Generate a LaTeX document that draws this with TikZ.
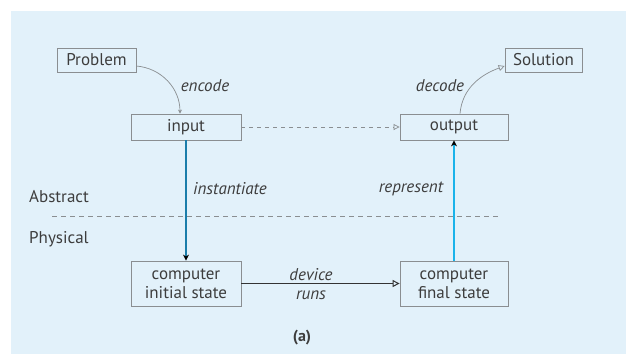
\documentclass[tikz,border=0pt]{standalone}
\usepackage{fontspec}
\setmainfont{PT Sans}
\usetikzlibrary{arrows.meta}
\definecolor{bgblue}{HTML}{E2F1FA}
\definecolor{boxline}{HTML}{8A8E91}
\definecolor{txt}{HTML}{3D3D3D}
\definecolor{darkblue}{HTML}{1B7DAA}
\definecolor{lightblue}{HTML}{1AB3EA}
\tikzset{
  box/.style={draw=boxline, line width=0.8pt, fill=bgblue, text=txt, font=\fontsize{17}{19}\selectfont, inner sep=0pt, align=center},
  lbl/.style={text=txt, font=\fontsize{17}{19}\selectfont\itshape, inner sep=0pt},
  side/.style={text=txt, font=\fontsize{17}{19}\selectfont, inner sep=0pt, anchor=west},
  thin/.style={draw=boxline, line width=0.7pt},
  opentip/.style={-{Triangle[open,length=6pt,width=6pt]}},
  smalltip/.style={-{Stealth[length=4pt,width=4pt]}},
}
\begin{document}
\begin{tikzpicture}[x=1pt,y=-1pt]
\useasboundingbox (0,0) rectangle (626,354);
\fill[white] (0,0) rectangle (626,354);
\fill[bgblue] (11,11) rectangle (626,354);
% boxes
\node[box, minimum width=79pt, minimum height=24pt] (problem) at (96.5,60) {Problem};
\node[box, minimum width=77pt, minimum height=24pt] (solution) at (543.5,60) {Solution};
\node[box, minimum width=110pt, minimum height=26pt] (input) at (186,127) {input};
\node[box, minimum width=108pt, minimum height=26pt] (output) at (454,127) {output};
\node[box, minimum width=110pt, minimum height=45pt] (init) at (186,283.5) {computer\\initial state};
\node[box, minimum width=108pt, minimum height=45pt] (final) at (454,283.5) {computer\\final state};
% labels
\node[lbl] (encode) at (205,86) {encode};
\node[lbl] (decode) at (440,86) {decode};
\node[lbl] (inst) at (230,189) {instantiate};
\node[lbl] (repr) at (411,189) {represent};
\node[lbl, align=center] (dev) at (311,284) {device\\runs};
\node[side] (abstract) at (29,197) {Abstract};
\node[side] (physical) at (29,239) {Physical};
\node[text=txt, font=\fontsize{16}{19}\selectfont\bfseries, inner sep=0pt] (a) at (302,338) {(a)};
% dashed separator
\coordinate (sepL) at (52,216);
\coordinate (sepR) at (500,216);
\draw[thin, dashed, dash pattern=on 5pt off 4pt] (sepL) -- (sepR);
% connectors
\draw[thin, smalltip] (problem.east) ++(0,6) to[out=-5,in=90] ([xshift=-6pt]input.north);
\draw[thin, opentip] ([xshift=6pt]output.north) to[out=85,in=200] ([yshift=-6pt]solution.west);
\draw[thin, dashed, dash pattern=on 4pt off 4pt, opentip] (input.east) -- (output.west);
\draw[darkblue, line width=2pt, -{Stealth[length=6pt,width=6pt,black]}] (input.south) -- (init.north);
\draw[lightblue, line width=2pt, -{Stealth[length=6pt,width=6pt,black]}] (final.north) -- (output.south);
\draw[black!80, line width=1pt, -{Triangle[open,length=7pt,width=7pt,fill=bgblue]}] (init.east) -- (final.west);
\end{tikzpicture}
\end{document}
